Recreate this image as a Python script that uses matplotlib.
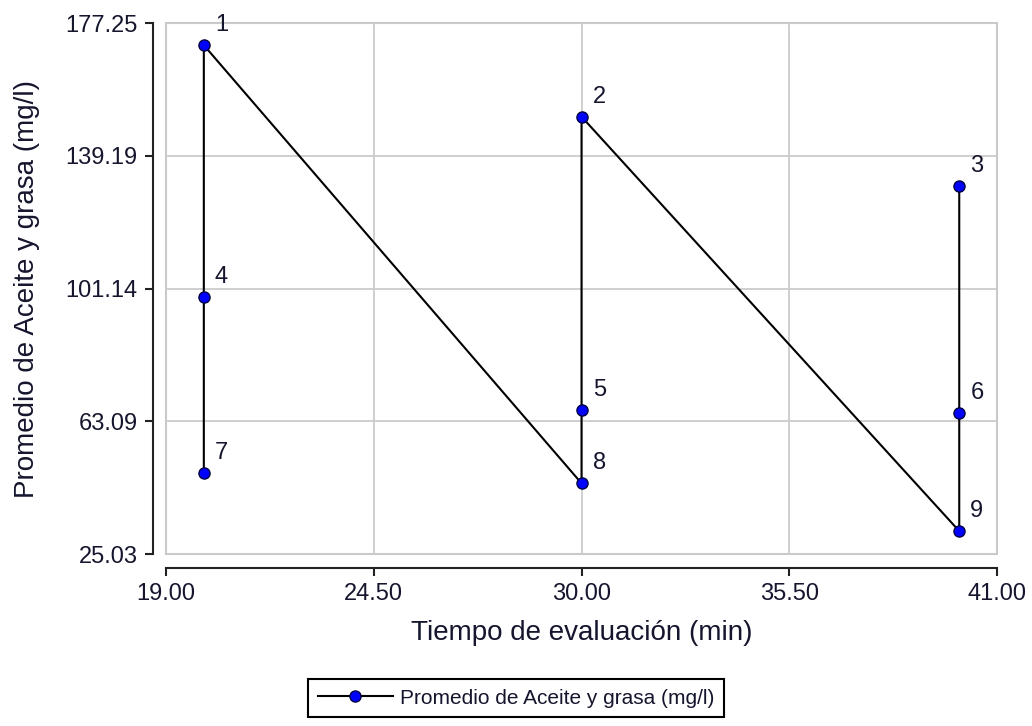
import matplotlib
matplotlib.use("Agg")
import matplotlib.pyplot as plt
from matplotlib.patches import Rectangle

plt.rcParams['font.family'] = ['Liberation Sans', 'DejaVu Sans']

# corridas en el orden en que se unen con la linea
corrida = [7, 4, 1, 8, 5, 2, 9, 6, 3]
tiempo = [20, 20, 20, 30, 30, 30, 40, 40, 40]
aceite_grasa = [48.2, 98.8, 170.9, 45.3, 66.3, 150.4, 31.6, 65.4, 130.6]

x_ticks = [19.00, 24.50, 30.00, 35.50, 41.00]
y_ticks = [25.03, 63.09, 101.14, 139.19, 177.25]

txt_color = '#15152e'

fig = plt.figure(figsize=(10.32, 7.26), dpi=100)
ax = fig.add_axes([0.1609, 0.2369, 0.8052, 0.7314])

ax.plot(tiempo, aceite_grasa, color='black', lw=1.5, marker='o', markersize=8,
        markerfacecolor='#0000ff', markeredgecolor='#000040', markeredgewidth=1,
        label='Promedio de Aceite y grasa (mg/l)', zorder=3)

for c, x, y in zip(corrida, tiempo, aceite_grasa):
    ax.annotate(str(c), (x, y), xytext=(8, 10), textcoords='offset points',
                ha='left', va='baseline', fontsize=17, color=txt_color)

ax.set_xlim(x_ticks[0], x_ticks[-1])
ax.set_ylim(y_ticks[0], y_ticks[-1])
ax.set_xticks(x_ticks)
ax.set_xticklabels([f'{v:.2f}' for v in x_ticks])
ax.set_yticks(y_ticks)
ax.set_yticklabels([f'{v:.2f}' for v in y_ticks])

# marco gris y rejilla
ax.grid(True, color='#cccccc', lw=1.3)
ax.set_axisbelow(True)
ax.add_patch(Rectangle((0, 0), 1, 1, transform=ax.transAxes, fill=False,
                       edgecolor='#c8c8c8', lw=1.5, clip_on=False, zorder=0.5))

# ejes separados del area de la grafica
for s in ['top', 'right']:
    ax.spines[s].set_visible(False)
ax.spines['left'].set_position(('outward', 9.5))
ax.spines['bottom'].set_position(('outward', 10))
ax.spines['left'].set_bounds(y_ticks[0], y_ticks[-1])
ax.spines['bottom'].set_bounds(x_ticks[0], x_ticks[-1])
for s in ['left', 'bottom']:
    ax.spines[s].set_linewidth(1.5)
    ax.spines[s].set_color('#222222')

ax.tick_params(axis='both', length=6, width=1.5, color='#222222',
               labelsize=17, labelcolor=txt_color)
ax.tick_params(axis='y', pad=5)
ax.tick_params(axis='x', pad=5)

ax.set_xlabel('Tiempo de evaluación (min)', fontsize=20, color=txt_color, labelpad=11)
ax.set_ylabel('Promedio de Aceite y grasa (mg/l)', fontsize=20, color=txt_color, labelpad=18)

leg = fig.legend(loc='center', bbox_to_anchor=(0.5, 1 - 698 / 726), fontsize=15,
                 frameon=True, fancybox=False, edgecolor='black', framealpha=1,
                 handlelength=3.6, handletextpad=0.35, borderpad=0.45)
leg.get_frame().set_linewidth(1.5)
for t in leg.get_texts():
    t.set_color(txt_color)

fig.savefig('out.png', dpi=100)
